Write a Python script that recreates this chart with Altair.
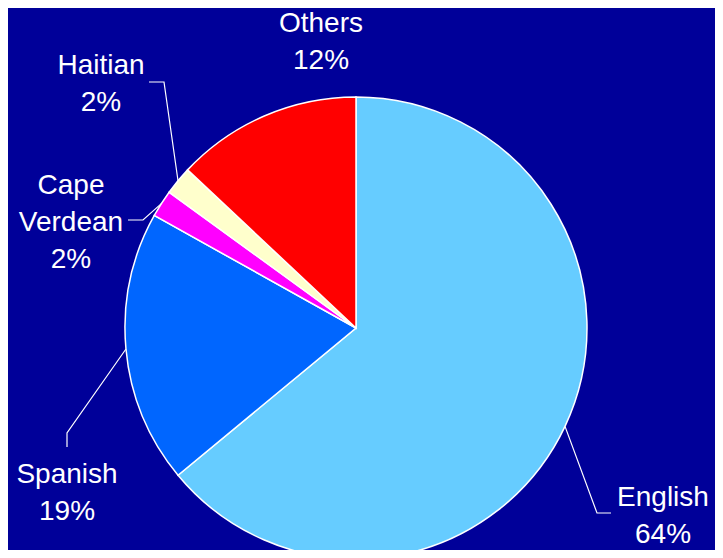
import math
import altair as alt
import pandas as pd

# ---- data ----
languages = ["English", "Spanish", "Cape Verdean", "Haitian", "Others"]
shares = [64.0, 19.1, 1.9, 2.0, 13.0]
pct_labels = ["64%", "19%", "2%", "2%", "12%"]
colors = ["#66CCFF", "#0066FF", "#FF00FF", "#FFFFCC", "#FF0000"]

# ---- layout (pixels relative to pie centre, y downward) ----
R = 231
W, H = 707, 542
CX, CY = 348, 320  # pie centre inside the view
label_pos = {  # first-line baseline anchor of each label
    "English": (307, 178),
    "Spanish": (-289, 155),
    "Cape Verdean": (-285, -134),
    "Haitian": (-255, -254),
    "Others": (-35, -296),
}
leader_pts = {  # elbow, end
    "English": [(241, 185), (255, 185)],
    "Spanish": [(-289, 105), (-289, 119)],
    "Cape Verdean": [(-213, -108), (-228, -108)],
    "Haitian": [(-192, -246), (-207, -246)],
}

slices = pd.DataFrame({
    "language": languages,
    "share": shares,
    "order": list(range(len(languages))),
    "cx": 0,
    "cy": 0,
})

total = sum(shares)
rows = []
cum = 0.0
for lang, v in zip(languages, shares):
    mid = 2 * math.pi * (cum + v / 2) / total
    cum += v
    if lang in leader_pts:
        pts = [(R * math.sin(mid), -R * math.cos(mid))] + leader_pts[lang]
        for i, (px, py) in enumerate(pts):
            rows.append({"language": lang, "i": i, "px": px, "py": py})
leaders = pd.DataFrame(rows)

labels = pd.DataFrame({
    "language": languages,
    "text": [l.replace(" ", "\n") + "\n" + p for l, p in zip(languages, pct_labels)],
    "px": [label_pos[l][0] for l in languages],
    "py": [label_pos[l][1] for l in languages],
})

xs = alt.Scale(domain=[-CX, W - CX])
ys = alt.Scale(domain=[-CY, H - CY], reverse=True)

pie = alt.Chart(slices).mark_arc(
    radius=R, stroke="white", strokeWidth=1.5
).encode(
    theta=alt.Theta("share:Q", stack=True),
    order=alt.Order("order:Q"),
    color=alt.Color("language:N", scale=alt.Scale(domain=languages, range=colors), legend=None),
    x=alt.X("cx:Q", scale=xs, axis=None),
    y=alt.Y("cy:Q", scale=ys, axis=None),
)

lines = alt.Chart(leaders).mark_line(color="white", strokeWidth=1.2).encode(
    x=alt.X("px:Q", scale=xs, axis=None),
    y=alt.Y("py:Q", scale=ys, axis=None),
    detail="language:N",
    order="i:Q",
)

text = alt.Chart(labels).mark_text(
    color="white", font="Liberation Sans", fontSize=28, lineBreak="\n",
    lineHeight=37, align="center", baseline="alphabetic"
).encode(
    x=alt.X("px:Q", scale=xs, axis=None),
    y=alt.Y("py:Q", scale=ys, axis=None),
    text="text:N",
)

chart = alt.layer(pie, lines, text).properties(
    width=W, height=H, padding=0,
    autosize=alt.AutoSizeParams(type="none"),
    background="#000099",
).configure_view(strokeWidth=0)

chart.save("out.html", embed_options={"renderer": "svg", "actions": False})
